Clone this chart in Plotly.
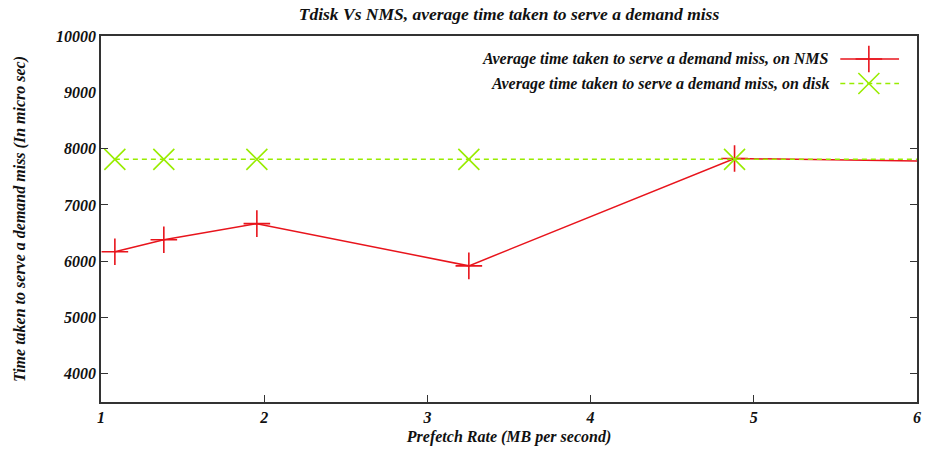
import plotly.graph_objects as go

prefetch_rate = [1.085, 1.385, 1.955, 3.254, 4.882, 7.0]
nms_time = [6168, 6381, 6667, 5918, 7825, 7740]
disk_time = [7810, 7810, 7810, 7810, 7810, 7810]
x_ticks = [1, 2, 3, 4, 5, 6]
y_ticks = [4000, 5000, 6000, 7000, 8000, 9000, 10000]
names = ["Average time taken to serve a demand miss, on NMS",
         "Average time taken to serve a demand miss, on disk"]

RED = "#e8141c"
GREEN = "#98ec00"
FONT = dict(family="Liberation Serif, Times New Roman, serif", size=16, color="#111111")

fig = go.Figure()
fig.add_trace(go.Scatter(
    x=prefetch_rate, y=nms_time, mode="lines+markers", name=names[0],
    line=dict(color=RED, width=1.5),
    marker=dict(symbol="cross-thin", size=19, line=dict(color=RED, width=1.6)),
    cliponaxis=True, showlegend=False))
fig.add_trace(go.Scatter(
    x=prefetch_rate, y=disk_time, mode="lines+markers", name=names[1],
    line=dict(color=GREEN, width=1.5, dash="5px,4px"),
    marker=dict(symbol="x-thin", size=21, line=dict(color=GREEN, width=1.6)),
    cliponaxis=True, showlegend=False))

# custom legend (samples on the right, text right-aligned), in an overlay axis
LEG_Y = [0.715, 0.41]
fig.add_trace(go.Scatter(x=[0.906, 0.978], y=[LEG_Y[0]] * 2, mode="lines", xaxis="x2", yaxis="y2",
                         line=dict(color=RED, width=1.5), showlegend=False, hoverinfo="skip"))
fig.add_trace(go.Scatter(x=[0.941], y=[LEG_Y[0]], mode="markers", xaxis="x2", yaxis="y2",
                         marker=dict(symbol="cross-thin", size=19, line=dict(color=RED, width=1.6)),
                         showlegend=False, hoverinfo="skip"))
fig.add_trace(go.Scatter(x=[0.906, 0.978], y=[LEG_Y[1]] * 2, mode="lines", xaxis="x2", yaxis="y2",
                         line=dict(color=GREEN, width=1.5, dash="5px,4px"), showlegend=False,
                         hoverinfo="skip"))
fig.add_trace(go.Scatter(x=[0.941], y=[LEG_Y[1]], mode="markers", xaxis="x2", yaxis="y2",
                         marker=dict(symbol="x-thin", size=21, line=dict(color=GREEN, width=1.6)),
                         showlegend=False, hoverinfo="skip"))
for nm, yy in zip(names, LEG_Y):
    fig.add_annotation(text="<b><i>%s</i></b>" % nm, x=0.895, y=yy, xref="x2", yref="y2",
                       xanchor="right", yanchor="middle", showarrow=False, font=FONT)

axis_common = dict(showgrid=False, zeroline=False, showline=True, linecolor="#333333",
                   linewidth=1.5, mirror="ticks", ticks="inside", ticklen=7,
                   tickcolor="#333333", tickwidth=1, tickfont=FONT)

fig.update_layout(
    width=925, height=454,
    margin=dict(l=101, r=4, t=36, b=52),
    paper_bgcolor="white", plot_bgcolor="white",
    title=dict(text="<b><i>Tdisk Vs NMS, average time taken to serve a demand miss</i></b>",
               x=0.5, xref="paper", xanchor="center", y=0.97, yanchor="middle",
               font=dict(family=FONT["family"], size=17.5, color="#111111")),
    xaxis=dict(range=[1, 6], tickvals=x_ticks,
               ticktext=["<b><i>%d</i></b>" % v for v in x_ticks],
               title=dict(text="<b><i>Prefetch Rate (MB per second)</i></b>", font=FONT, standoff=6),
               **axis_common),
    yaxis=dict(range=[3500, 10000], tickvals=y_ticks,
               ticktext=["<b><i>%d</i></b>" % v for v in y_ticks],
               title=dict(text="<b><i>Time taken to serve a demand miss (In micro sec)</i></b>",
                          font=FONT, standoff=26),
               **axis_common),
    xaxis2=dict(range=[0, 1], overlaying="x", visible=False, fixedrange=True),
    yaxis2=dict(range=[0, 1], domain=[0.78, 1.0], visible=False, fixedrange=True, anchor="x2"),
    showlegend=False,
)

fig.write_html("out.html")
